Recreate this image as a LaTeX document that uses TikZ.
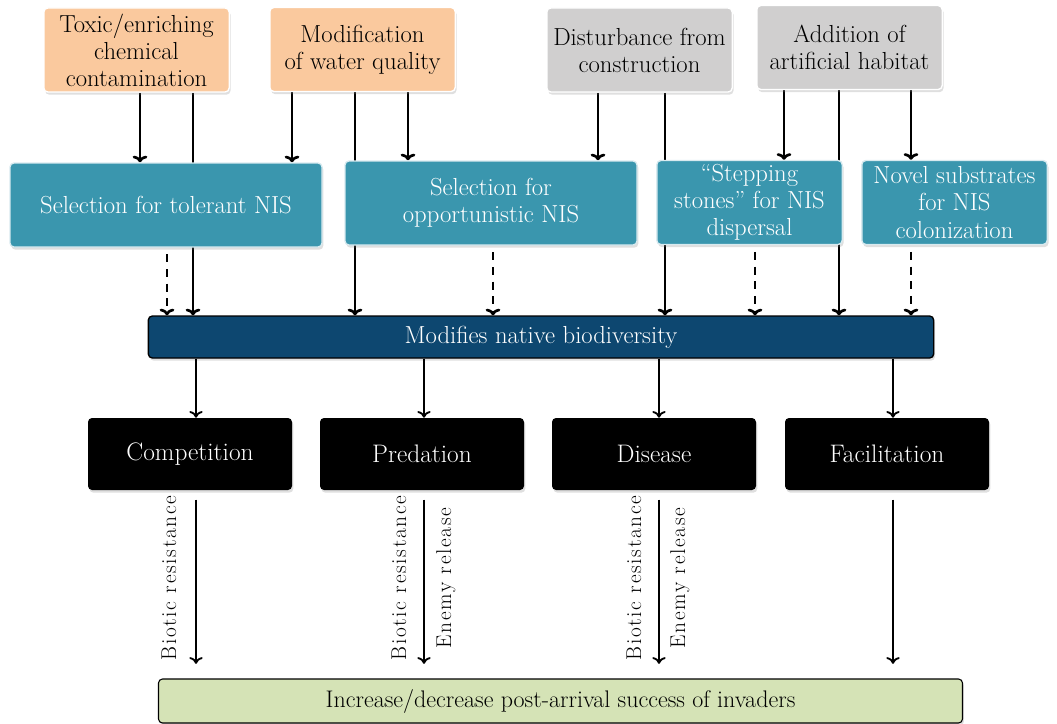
\documentclass[tikz,border=0pt]{standalone}
\usepackage{amsmath}
\usepackage{fontspec}
\newfontfamily\labfont[LetterSpace=8]{Latin Modern Roman}
\usetikzlibrary{arrows.meta,backgrounds,shadows}
\definecolor{orangebox}{HTML}{FAC99E}
\definecolor{greybox}{HTML}{D0CFCF}
\definecolor{tealbox}{HTML}{3A96AE}
\definecolor{navybox}{HTML}{0D4770}
\definecolor{greenbox}{HTML}{D5E3B6}

\begin{document}
\begin{tikzpicture}[x=0.75pt,y=-0.75pt,
    box/.style={rounded corners=3pt,align=center,inner sep=1pt,font=\fontsize{18.5}{20.3}\selectfont,
      drop shadow={shadow xshift=1pt,shadow yshift=-2pt,opacity=0.25}},
    srcbox/.style={box,draw=white,line width=1pt,minimum width=139pt,minimum height=63pt},
    selbox/.style={box,fill=tealbox,draw=white!80!tealbox,line width=1pt,text=white,minimum height=63pt},
    effbox/.style={box,fill=black,text=white,minimum width=153pt,minimum height=54pt,font=\fontsize{19}{22}\selectfont},
    arr/.style={line width=2pt,-{To[length=5pt,width=11pt]}},
    dasharr/.style={arr,dash pattern=on 6pt off 5pt},
    thinarr/.style={line width=1.4pt,-{To[length=5pt,width=10pt]}},
    lab/.style={rotate=90,inner sep=0pt,font=\labfont\fontsize{16}{18}\selectfont}]
  \useasboundingbox (0,0) rectangle (1057,724);

  % sources
  \node[srcbox,fill=orangebox](toxic) at (136.5,50){Toxic/enriching\\chemical\\contamination};
  \node[srcbox,fill=orangebox](water) at (362.5,49.5){Modification\\of water quality};
  \node[srcbox,fill=greybox](constr) at (639.5,50){Disturbance from\\construction};
  \node[srcbox,fill=greybox](habitat) at (849.5,47.5){Addition of\\artificial habitat};

  % selection
  \node[selbox,minimum width=234pt](tolerant) at (166,205){Selection for tolerant NIS};
  \node[selbox,minimum width=219pt](opport) at (491,203){Selection for\\opportunistic NIS};
  \node[selbox,minimum width=139pt](stepping) at (749.5,202.5){``Stepping\\stones'' for NIS\\dispersal};
  \node[selbox,minimum width=139pt](novel) at (954.5,202.5){Novel substrates\\for NIS\\colonization};

  \node[box,fill=navybox,draw=black,line width=1pt,text=white,minimum width=589pt,minimum height=31.5pt](biodiv) at (541,337){Modifies native biodiversity};

  % interactions
  \node[effbox](comp) at (190,454){Competition};
  \node[effbox](pred) at (422,454){Predation};
  \node[effbox](dis) at (654,454){Disease};
  \node[effbox](facil) at (887,454){Facilitation};

  \node[box,fill=greenbox,draw=black,line width=0.8pt,minimum width=603pt,minimum height=33pt,font=\fontsize{18}{20}\selectfont](success) at (560.5,701){Increase/decrease post-arrival success of invaders};

  \node[lab](bio1) at (169,578){Biotic resistance};
  \node[lab](bio2) at (399,578){Biotic resistance};
  \node[lab](enemy1) at (446,578){Enemy release};
  \node[lab](bio3) at (634,578){Biotic resistance};
  \node[lab](enemy2) at (680,578){Enemy release};

  \begin{scope}[on background layer]
    \draw[arr] (toxic.south -| 140,0) -- (tolerant.north -| 140,0);
    \draw[arr] (toxic.south -| 193,0) -- (biodiv.north -| 193,0);
    \draw[arr] (water.south -| 292,0) -- (tolerant.north -| 292,0);
    \draw[arr] (water.south -| 355,0) -- (biodiv.north -| 355,0);
    \draw[arr] (water.south -| 408,0) -- (opport.north -| 408,0);
    \draw[arr] (constr.south -| 598,0) -- (opport.north -| 598,0);
    \draw[arr] (constr.south -| 665,0) -- (biodiv.north -| 665,0);
    \draw[arr] (habitat.south -| 784,0) -- (stepping.north -| 784,0);
    \draw[arr] (habitat.south -| 839,0) -- (biodiv.north -| 839,0);
    \draw[arr] (habitat.south -| 911,0) -- (novel.north -| 911,0);
  \end{scope}

  \draw[dasharr,shorten <=5pt] (tolerant.south -| 167,0) -- (biodiv.north -| 167,0);
  \draw[dasharr,shorten <=5pt] (opport.south -| 493,0) -- (biodiv.north -| 493,0);
  \draw[dasharr,shorten <=5pt] (stepping.south -| 755,0) -- (biodiv.north -| 755,0);
  \draw[dasharr,shorten <=5pt] (novel.south -| 911,0) -- (biodiv.north -| 911,0);

  \draw[thinarr] (biodiv.south -| 196,0) -- (comp.north -| 196,0);
  \draw[thinarr] (biodiv.south -| 424,0) -- (pred.north -| 424,0);
  \draw[thinarr] (biodiv.south -| 659,0) -- (dis.north -| 659,0);
  \draw[thinarr] (biodiv.south -| 893,0) -- (facil.north -| 893,0);

  \draw[thinarr,shorten <=7pt,shorten >=11pt] (comp.south -| 196,0) -- (success.north -| 196,0);
  \draw[thinarr,shorten <=7pt,shorten >=11pt] (pred.south -| 424,0) -- (success.north -| 424,0);
  \draw[thinarr,shorten <=7pt,shorten >=11pt] (dis.south -| 659,0) -- (success.north -| 659,0);
  \draw[thinarr,shorten <=7pt,shorten >=11pt] (facil.south -| 893,0) -- (success.north -| 893,0);
\end{tikzpicture}
\end{document}
